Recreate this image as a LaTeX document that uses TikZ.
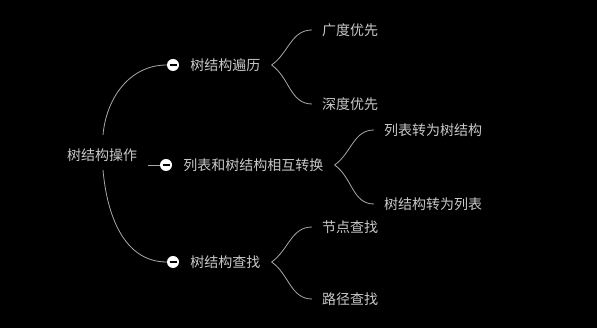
\documentclass[tikz,border=0pt]{standalone}
\usepackage{fontspec}
\usepackage{xcolor}
\usepackage{tikz}
\usetikzlibrary{positioning}
\newfontfamily\cjk{Noto Sans CJK SC}
\definecolor{txtgray}{HTML}{C8C8C8}
\definecolor{linegray}{HTML}{A8A8A8}

\begin{document}
\begin{tikzpicture}[x=1pt, y=1pt,
    txt/.style={text=txtgray, font=\cjk\fontsize{14}{16}\selectfont, inner sep=0pt},
    branch/.style={txt, anchor=west, inner xsep=11pt},
    leaf/.style={txt, anchor=west, inner xsep=10pt},
    link/.style={draw=linegray, line width=0.8pt},
    toggle/.style={circle, fill=white, minimum size=12pt, inner sep=0pt,
        path picture={\draw[black, line width=1.6pt]
            ([xshift=2.5pt]path picture bounding box.west) --
            ([xshift=-2.5pt]path picture bounding box.east);}}]

    % =================================================================
    % 1. NỀN ĐEN VÀ KHUNG HÌNH
    % =================================================================
    \fill[black] (0,0) rectangle (597,328);
    \useasboundingbox (0,0) rectangle (597,328);

    % =================================================================
    % 2. NÚT GỐC VÀ CÁC ĐIỂM XUẤT PHÁT
    % =================================================================
    \node[txt] (root) at (102,173) {树结构操作};
    \coordinate (r1) at (103,193);
    \coordinate (r2) at (148,163);
    \coordinate (r3) at (103,158);

    % =================================================================
    % 3. CÁC NÚT THU GỌN VÀ NHÁNH CẤP 1
    % =================================================================
    \node[toggle] (t1) at (173,263) {};
    \node[toggle] (t2) at (166,163) {};
    \node[toggle] (t3) at (173,66) {};

    \node[branch] (b1) at (t1.east) {树结构遍历};
    \node[branch] (b2) at (t2.east) {列表和树结构相互转换};
    \node[branch] (b3) at (t3.east) {树结构查找};

    % =================================================================
    % 4. CÁC LÁ (NHÁNH CẤP 2)
    % =================================================================
    \node[leaf] (l1) at (312,298) {广度优先};
    \node[leaf] (l2) at (312,224) {深度优先};
    \node[leaf] (l3) at (374,198) {列表转为树结构};
    \node[leaf] (l4) at (374,124) {树结构转为列表};
    \node[leaf] (l5) at (312,101) {节点查找};
    \node[leaf] (l6) at (312,29) {路径查找};

    % =================================================================
    % 5. ĐƯỜNG NỐI
    % =================================================================
    % Từ gốc đến các nút thu gọn
    \draw[link] (r1) to[out=85, in=180] (t1.west);
    \draw[link] (r2) -- (t2.west);
    \draw[link] (r3) to[out=-85, in=180] (t3.west);

    % Từ nhánh cấp 1 đến các lá
    \draw[link] (b1.east) to[out=35, in=180] (l1.west);
    \draw[link] (b1.east) to[out=-35, in=180] (l2.west);
    \draw[link] (b2.east) to[out=35, in=180] (l3.west);
    \draw[link] (b2.east) to[out=-35, in=180] (l4.west);
    \draw[link] (b3.east) to[out=35, in=180] (l5.west);
    \draw[link] (b3.east) to[out=-35, in=180] (l6.west);

\end{tikzpicture}
\end{document}
